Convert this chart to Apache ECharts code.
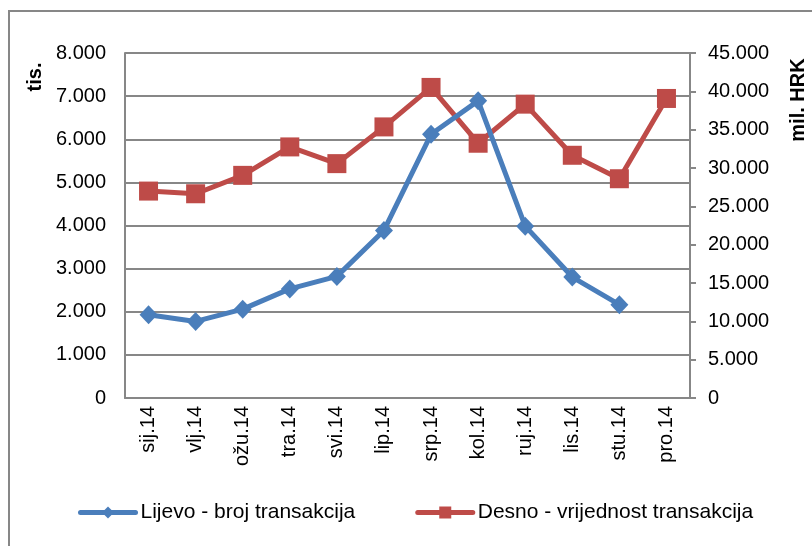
<!DOCTYPE html>
<html>
<head>
<meta charset="utf-8">
<script src="https://cdn.jsdelivr.net/npm/echarts@6/dist/echarts.min.js"></script>
<style>html,body{margin:0;padding:0;background:#fff}#c{width:812px;height:546px}</style>
</head>
<body>
<div id="c"></div>
<script>
const categories = ['sij.14','vlj.14','ožu.14','tra.14','svi.14','lip.14','srp.14','kol.14','ruj.14','lis.14','stu.14','pro.14'];
const brojTransakcija = [1930,1775,2060,2530,2820,3885,6115,6890,3985,2805,2165,null];
const vrijednostTransakcija = [26990,26640,29040,32750,30570,35360,40510,33230,38330,31660,28600,39070];
const seriesNames = ['Lijevo - broj transakcija','Desno - vrijednost transakcija'];
const leftAxisTitle = 'tis.';
const rightAxisTitle = 'mil. HRK';

const FONT = 'Liberation Sans, Arial, sans-serif';
const GRAY = '#878787';
const fmt = v => String(v).replace(/\B(?=(\d{3})+(?!\d))/g, '.');

const chart = echarts.init(document.getElementById('c'), null, {renderer:'canvas'});
chart.setOption({
  animation: false,
  backgroundColor: '#fff',
  textStyle: {fontFamily: FONT},
  grid: {left: 125, right: 122, top: 53, bottom: 148, containLabel: false},
  graphic: [
    {type:'rect', shape:{x:9, y:11, width:900, height:700}, style:{fill:'none', stroke:GRAY, lineWidth:2}, silent:true, z:-10},
    {type:'text', x:35, y:77, rotation:Math.PI/2, style:{text:leftAxisTitle, font:'bold 20px ' + FONT, fill:'#000', align:'center', verticalAlign:'middle'}},
    {type:'text', x:798, y:100, rotation:Math.PI/2, style:{text:rightAxisTitle, font:'bold 20px ' + FONT, fill:'#000', align:'center', verticalAlign:'middle'}}
  ],
  legend: {
    left: 78, top: 502, padding: 0, itemGap: 60, itemWidth: 55, itemHeight: 15,
    lineStyle: {width: 5, cap: 'round'},
    textStyle: {fontSize: 21, color: '#000', fontFamily: FONT},
    data: seriesNames
  },
  xAxis: {
    type: 'category', data: categories, boundaryGap: true,
    axisLine: {show: true, lineStyle: {color: GRAY, width: 2}},
    axisTick: {show: false},
    axisLabel: {rotate: 90, margin: 8, fontSize: 20, color: '#000', fontFamily: FONT, interval: 0}
  },
  yAxis: [
    {
      type: 'value', min: 0, max: 8000, interval: 1000, position: 'left',
      axisLine: {show: true, lineStyle: {color: GRAY, width: 2}},
      axisTick: {show: false},
      splitLine: {show: true, lineStyle: {color: GRAY, width: 2}},
      axisLabel: {margin: 19, fontSize: 20, color: '#000', fontFamily: FONT, formatter: fmt}
    },
    {
      type: 'value', min: 0, max: 45000, interval: 5000, position: 'right',
      axisLine: {show: true, lineStyle: {color: GRAY, width: 2}},
      axisTick: {show: true, inside: false, length: 6, lineStyle: {color: GRAY, width: 2}},
      splitLine: {show: false},
      axisLabel: {margin: 18, fontSize: 20, color: '#000', fontFamily: FONT, formatter: fmt}
    }
  ],
  series: [
    {
      name: seriesNames[0], type: 'line', yAxisIndex: 0, data: brojTransakcija,
      symbol: 'diamond', symbolSize: [18, 19], showAllSymbol: true,
      lineStyle: {color: '#4a7ebb', width: 5},
      itemStyle: {color: '#4a7ebb'},
      z: 3
    },
    {
      name: seriesNames[1], type: 'line', yAxisIndex: 1, data: vrijednostTransakcija,
      symbol: 'rect', symbolSize: 19, showAllSymbol: true,
      lineStyle: {color: '#be4b48', width: 5},
      itemStyle: {color: '#be4b48'},
      z: 2
    }
  ]
});
</script>
</body>
</html>
